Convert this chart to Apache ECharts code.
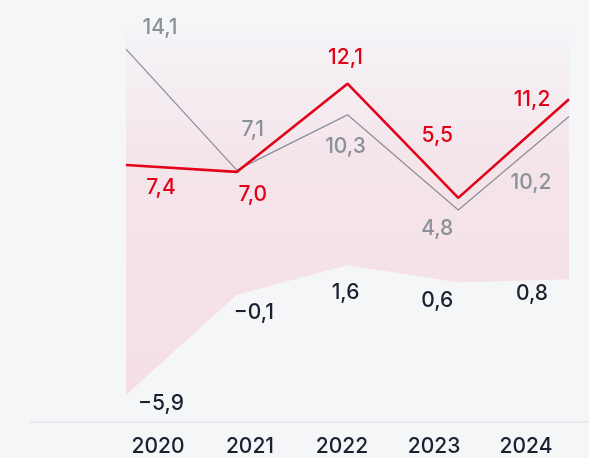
<!DOCTYPE html>
<html>
<head>
<meta charset="utf-8">
<script src="https://cdn.jsdelivr.net/npm/echarts@6/dist/echarts.min.js"></script>
<style>
  html, body { margin: 0; padding: 0; background: #f5f6f8; }
  #chart { width: 589px; height: 458px; }
</style>
</head>
<body>
<div id="chart"></div>
<script>
// data
const years = ['2020', '2021', '2022', '2023', '2024'];
const redValues = [7.4, 7.0, 12.1, 5.5, 11.2];
const grayValues = [14.1, 7.1, 10.3, 4.8, 10.2];
const lowValues = [-5.9, -0.1, 1.6, 0.6, 0.8];
const bandTop = 15.4;

// label offsets (px) from each point, hand placed like the original
const redOffsets = [[35, 23], [16, 23], [-2, -26], [-21, -62], [-37, 0]];
const grayOffsets = [[34, -21], [16, -40], [-2, 32], [-21, 19], [-38, 66]];
const lowOffsets = [[35, 9], [17, 18], [-2, 27], [-21, 18], [-37, 15]];

const FONT = 'Inter';
const FSIZE = 21;
const RED = '#e30019';
const GRAY = '#8b9199';
const DARK = '#1b2030';

const fmt = v => v.toFixed(1).replace('.', ',').replace('-', '\u2212');

const withLabels = (values, offsets, color) => values.map((v, i) => ({
  value: v,
  label: {
    show: true,
    position: 'inside',
    offset: offsets[i],
    color: color,
    fontFamily: FONT,
    fontSize: FSIZE,
    fontWeight: 500,
    formatter: p => fmt(p.value),
  },
}));

const myChart = echarts.init(document.getElementById('chart'));
const option = {
  backgroundColor: '#f5f6f8',
  animation: false,
  grid: [
    { left: 126, right: 20, top: 16.2, bottom: 43.9 },
    { left: 112, right: 17, top: 16.2, bottom: 36 },
  ],
  xAxis: [
    {
      gridIndex: 0, type: 'category', data: years, boundaryGap: false,
      axisLine: { show: false }, axisTick: { show: false }, axisLabel: { show: false },
      splitLine: { show: false },
    },
    {
      gridIndex: 1, type: 'category', data: years, boundaryGap: true,
      axisLine: { show: false }, axisTick: { show: false },
      axisLabel: { color: DARK, fontFamily: FONT, fontSize: FSIZE, fontWeight: 500, margin: 14 },
      splitLine: { show: false },
    },
  ],
  yAxis: [
    { gridIndex: 0, type: 'value', min: -7, max: 16, show: false, splitLine: { show: false } },
    { gridIndex: 1, type: 'value', min: 0, max: 1, show: false, splitLine: { show: false } },
  ],
  graphic: [{
    type: 'line',
    shape: { x1: 30, y1: 422, x2: 589, y2: 422 },
    style: { stroke: '#d9dce1', lineWidth: 1.2 },
  }],
  series: [
    {
      name: 'low',
      type: 'line',
      stack: 'band',
      stackStrategy: 'all',
      data: withLabels(lowValues, lowOffsets, DARK),
      symbol: 'circle',
      symbolSize: 0,
      lineStyle: { opacity: 0 },
      z: 1,
    },
    {
      name: 'band',
      type: 'line',
      stack: 'band',
      stackStrategy: 'all',
      data: lowValues.map(v => bandTop - v),
      symbol: 'none',
      lineStyle: { opacity: 0 },
      areaStyle: {
        opacity: 1,
        color: new echarts.graphic.LinearGradient(0, 0, 0, 1, [
          { offset: 0, color: '#f4f4f7' },
          { offset: 0.35, color: '#f4e5eb' },
          { offset: 1, color: '#f5dfe5' },
        ]),
      },
      z: 0,
    },
    {
      name: 'gray',
      type: 'line',
      data: withLabels(grayValues, grayOffsets, GRAY),
      symbol: 'circle',
      symbolSize: 0,
      lineStyle: { color: GRAY, width: 1.3 },
      z: 2,
    },
    {
      name: 'red',
      type: 'line',
      data: withLabels(redValues, redOffsets, RED),
      symbol: 'circle',
      symbolSize: 0,
      lineStyle: { color: RED, width: 2.6 },
      z: 3,
    },
  ],
};
myChart.setOption(option);
window.addEventListener('resize', myChart.resize);
</script>
</body>
</html>
